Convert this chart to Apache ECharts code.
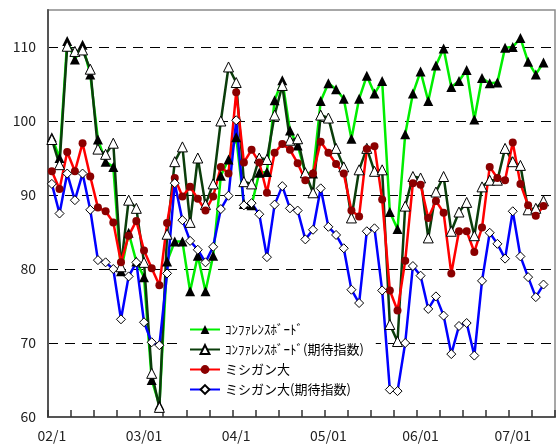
<!DOCTYPE html>
<html>
<head>
<meta charset="utf-8">
<script src="https://cdn.jsdelivr.net/npm/echarts@6/dist/echarts.min.js"></script>
<style>
  html, body { margin: 0; padding: 0; background: #fff; }
  #main { width: 560px; height: 448px; }
</style>
</head>
<body>
<div id="main"></div>
<script>
// year labels shown every 12 months
var yearLabels = ['02/1', '03/01', '04/1', '05/01', '06/01', '07/01'];

// monthly categories, 2002/01 .. 2007/06
var months = [];
for (var y = 2002; y <= 2007; y++) {
	for (var m = 1; m <= 12; m++) {
		if (y === 2007 && m > 6) break;
		months.push(y + '/' + (m < 10 ? '0' + m : m));
	}
}

var confBoard = [97.8, 95.0, 110.8, 108.3, 110.3, 106.3, 97.5, 94.5, 93.8, 79.7,
	84.9, 81.0, 78.9, 65.0, 61.6, 81.0, 83.7, 83.7, 77.0, 81.8,
	77.0, 81.8, 92.6, 94.8, 97.8, 88.8, 88.6, 93.0, 93.1, 102.8,
	105.5, 98.7, 96.7, 93.0, 92.9, 102.7, 105.1, 104.3, 103.0, 97.6,
	103.0, 106.1, 103.7, 105.4, 87.7, 85.4, 98.2, 103.7, 106.7, 102.7,
	107.5, 109.8, 104.6, 105.4, 106.9, 100.2, 105.8, 105.1, 105.2, 109.9,
	110.0, 111.2, 108.0, 106.3, 107.9];

var confBoardExp = [97.5, 94.1, 110.1, 109.4, 109.6, 107.0, 96.2, 95.5, 97.0, 80.3,
	89.3, 88.2, 80.9, 65.9, 61.3, 84.7, 94.5, 96.5, 86.3, 95.0,
	88.7, 91.5, 100.0, 107.3, 105.2, 91.8, 91.5, 95.0, 94.8, 100.8,
	104.8, 97.4, 97.6, 93.0, 90.3, 100.8, 100.4, 96.3, 93.8, 86.9,
	93.4, 96.3, 93.2, 93.4, 72.5, 70.2, 88.5, 92.5, 92.3, 84.2,
	90.4, 92.5, 85.1, 87.7, 89.0, 84.5, 91.1, 92.0, 92.0, 96.3,
	94.5, 94.0, 88.0, 88.2, 89.2];

var michigan = [93.2, 90.8, 95.8, 93.2, 97.0, 92.5, 88.3, 87.8, 86.3, 80.9,
	84.5, 86.5, 82.5, 80.1, 77.8, 86.2, 92.3, 89.8, 91.1, 89.5,
	87.9, 89.8, 93.8, 92.9, 103.9, 94.4, 96.1, 94.4, 90.3, 95.7,
	96.9, 96.1, 94.3, 92.0, 92.9, 97.2, 95.7, 94.2, 92.9, 87.9,
	87.1, 96.2, 96.6, 89.4, 77.1, 74.4, 81.1, 91.6, 91.4, 86.9,
	89.2, 87.6, 79.4, 85.1, 85.1, 82.3, 85.6, 93.8, 92.3, 92.0,
	97.1, 91.5, 88.6, 87.2, 88.5];

var michiganExp = [91.5, 87.5, 92.9, 89.3, 92.9, 88.0, 81.2, 80.9, 80.0, 73.2,
	79.0, 80.9, 72.8, 70.1, 69.7, 79.4, 91.6, 86.6, 83.8, 82.6,
	80.9, 83.0, 88.1, 89.9, 100.1, 88.6, 88.9, 87.4, 81.6, 88.7,
	91.2, 88.2, 87.9, 84.0, 85.3, 90.9, 85.7, 84.6, 82.8, 77.2,
	75.4, 85.1, 85.5, 77.1, 63.7, 63.5, 70.0, 80.4, 79.1, 74.6,
	76.3, 73.7, 68.5, 72.3, 72.7, 68.3, 78.4, 84.9, 83.4, 81.4,
	87.8, 81.7, 78.9, 76.2, 77.9];

var names = ['ｺﾝﾌｧﾚﾝｽﾎﾞｰﾄﾞ', 'ｺﾝﾌｧﾚﾝｽﾎﾞｰﾄﾞ(期待指数)', 'ミシガン大', 'ミシガン大(期待指数)'];

var font = '"Noto Sans CJK JP", "Liberation Sans", sans-serif';

var chart = echarts.init(document.getElementById('main'));
var option = {
	animation: false,
	backgroundColor: '#fff',
	textStyle: { fontFamily: font },
	grid: {
		left: 48, right: 5, top: 10, bottom: 31,
		show: true,
		borderColor: '#8a8a8a',
		borderWidth: 1.5
	},
	legend: {
		orient: 'vertical',
		left: 183,
		top: 318,
		padding: [5, 12, 5, 6],
		itemGap: 7,
		itemWidth: 30,
		itemHeight: 11,
		backgroundColor: '#fff',
		textStyle: { fontSize: 13, color: '#000', fontFamily: font },
		data: names
	},
	xAxis: {
		type: 'category',
		data: months,
		boundaryGap: true,
		axisLine: { show: true, onZero: false, lineStyle: { color: '#555', width: 2 } },
		axisTick: {
			show: true,
			inside: false,
			length: -7,
			interval: 2,
			lineStyle: { color: '#333', width: 1.5 }
		},
		axisLabel: {
			interval: 11,
			formatter: function (value, index) { return yearLabels[index / 12] || ''; },
			fontSize: 14,
			color: '#222',
			margin: 12
		},
		splitLine: { show: false }
	},
	yAxis: {
		type: 'value',
		min: 60,
		max: 115,
		interval: 10,
		axisLine: { show: true, lineStyle: { color: '#555', width: 2 } },
		axisTick: { show: false },
		axisLabel: { fontSize: 14, color: '#222', margin: 12, showMaxLabel: false },
		splitLine: {
			show: true,
			showMinLine: false,
			showMaxLine: false,
			lineStyle: { color: '#000', width: 1, type: [10, 7] }
		}
	},
	series: [
		{
			name: names[0], type: 'line', data: confBoard,
			symbol: 'triangle', symbolSize: 10, showAllSymbol: true,
			lineStyle: { color: '#00ee00', width: 2.5 },
			itemStyle: { color: '#000' }
		},
		{
			name: names[1], type: 'line', data: confBoardExp,
			symbol: 'triangle', symbolSize: 10, showAllSymbol: true,
			lineStyle: { color: '#0b3d0b', width: 2.5 },
			itemStyle: { color: '#fff', borderColor: '#000', borderWidth: 1 }
		},
		{
			name: names[2], type: 'line', data: michigan,
			symbol: 'circle', symbolSize: 8, showAllSymbol: true,
			lineStyle: { color: '#ff0000', width: 2.5 },
			itemStyle: { color: '#8b0000' }
		},
		{
			name: names[3], type: 'line', data: michiganExp,
			symbol: 'diamond', symbolSize: 9, showAllSymbol: true,
			lineStyle: { color: '#0000ff', width: 2.5 },
			itemStyle: { color: '#fff', borderColor: '#000', borderWidth: 1 }
		}
	]
};
chart.setOption(option, true);
</script>
</body>
</html>
